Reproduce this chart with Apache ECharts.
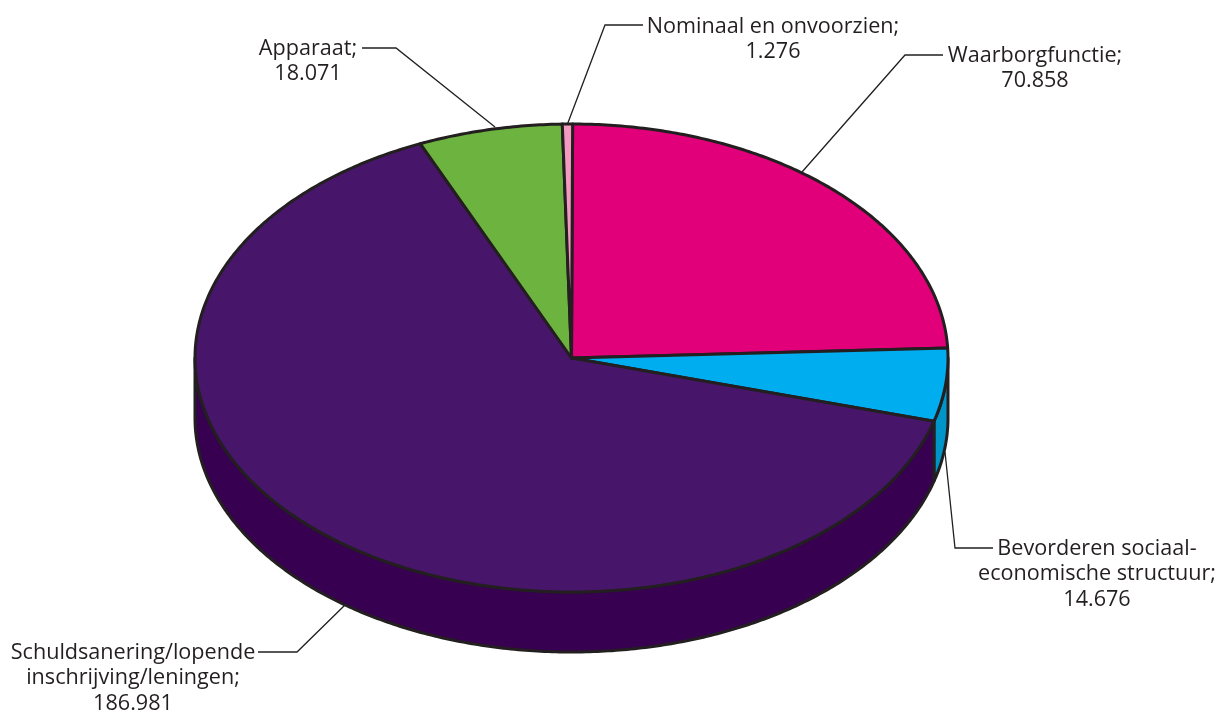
<!DOCTYPE html>
<html>
<head>
<meta charset="utf-8">
<style>html,body{margin:0;padding:0;background:#fff}#c{width:1218px;height:713px}</style>
<script src="https://cdn.jsdelivr.net/npm/echarts@6/dist/echarts.min.js"></script>
</head>
<body>
<div id="c"></div>
<script>
// Data, clockwise from twelve o'clock
const categories = ['Waarborgfunctie', 'Bevorderen sociaal-\neconomische structuur', 'Schuldsanering/lopende\ninschrijving/leningen', 'Apparaat', 'Nominaal en onvoorzien'];
const values = [70858, 14676, 186981, 18071, 1276];

// Styling and layout (not data)
const topColors = ['#e2007a', '#00aeef', '#47166b', '#6db33f', '#f49ac1'];
const wallColors = ['#b00060', '#0095c8', '#380050', '#4f8a2b', '#c97aa0'];
const inkColor = '#231f20';
const pie = { cx: 571.5, cy: 358, rx: 376.5, ry: 234, depth: 60, start: 0.003 };
const labelFont = '21.6px "Open Sans", sans-serif';
const labelLineHeight = 25.5;
const leaders = [
  [[802, 172], [905, 55], [943, 55]],
  [[945, 452], [955, 548], [993, 548]],
  [[345, 605], [297, 652], [258, 652]],
  [[495, 127], [396, 48], [362, 48]],
  [[567.5, 124], [605, 25], [643, 25]]
];
const labelPlace = [[1035, 43], [1097, 536], [133, 640], [308, 36], [773, 14]];

const total = values.reduce((a, b) => a + b, 0);
const toAngle = v => v / total * Math.PI * 2;
const startOf = i => pie.start + toAngle(values.slice(0, i).reduce((a, b) => a + b, 0));
const rimPoint = (a, dy) => [pie.cx + pie.rx * Math.sin(a), pie.cy - pie.ry * Math.cos(a) + (dy || 0)];
const arcPoints = (a0, a1, dy) => {
  const n = Math.max(2, Math.ceil((a1 - a0) / 0.01));
  const pts = [];
  for (let k = 0; k <= n; k++) pts.push(rimPoint(a0 + (a1 - a0) * k / n, dy));
  return pts;
};
const fmt = v => String(v).replace(/\B(?=(\d{3})+$)/g, '.');

const dataRows = values.map((v, i) => [i, v]);

function renderWall(params, api) {
  const i = api.value(0);
  const a0 = startOf(i), a1 = a0 + toAngle(api.value(1));
  const lo = Math.max(a0, Math.PI / 2), hi = Math.min(a1, Math.PI * 1.5);
  if (hi <= lo) return { type: 'group', children: [] };
  const top = arcPoints(lo, hi, 0);
  const bottom = arcPoints(lo, hi, pie.depth).reverse();
  return {
    type: 'polygon',
    shape: { points: top.concat(bottom) },
    style: { fill: wallColors[i], stroke: inkColor, lineWidth: 3, lineJoin: 'round' }
  };
}
function renderTop(params, api) {
  const i = api.value(0);
  const a0 = startOf(i), a1 = a0 + toAngle(api.value(1));
  return {
    type: 'polygon',
    shape: { points: [[pie.cx, pie.cy]].concat(arcPoints(a0, a1, 0)) },
    style: { fill: topColors[i], stroke: inkColor, lineWidth: 3, lineJoin: 'round' }
  };
}
function renderLabel(params, api) {
  const i = api.value(0);
  return {
    type: 'group',
    children: [
      { type: 'polyline', shape: { points: leaders[i] }, style: { fill: null, stroke: inkColor, lineWidth: 1.3 } },
      { type: 'text', x: labelPlace[i][0], y: labelPlace[i][1],
        style: { text: categories[i] + ';\n' + fmt(api.value(1)), font: labelFont, lineHeight: labelLineHeight,
                 align: 'center', verticalAlign: 'top', fill: inkColor } }
    ]
  };
}
const chart = echarts.init(document.getElementById('c'), null, { renderer: 'canvas' });
chart.setOption({
  backgroundColor: '#ffffff',
  animation: false,
  series: [
    { type: 'custom', coordinateSystem: 'none', z: 1, data: dataRows, renderItem: renderWall, silent: true },
    { type: 'custom', coordinateSystem: 'none', z: 2, data: dataRows, renderItem: renderTop, silent: true },
    { type: 'custom', coordinateSystem: 'none', z: 3, data: dataRows, renderItem: renderLabel, silent: true }
  ]
});
</script>
</body>
</html>
